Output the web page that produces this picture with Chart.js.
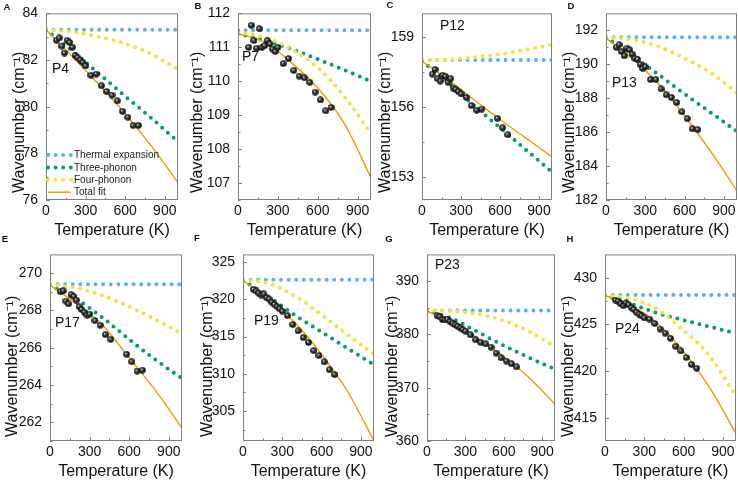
<!DOCTYPE html>
<html lang="en">
<head>
<meta charset="UTF-8">
<title>Phonon anharmonicity fits</title>
<script src="https://cdn.jsdelivr.net/npm/chart.js@4"></script>
<style>
  body { margin: 0; width: 738px; height: 482px; position: relative; overflow: hidden; background: #fff; font-family: "Liberation Sans", Arial, sans-serif; }
  canvas { position: absolute; }
  .tag { position: absolute; font-weight: bold; font-size: 9.5px; line-height: 10px; color: #111; transform: translate(-50%, -50%); }
  .peak { position: absolute; font-size: 14px; line-height: 16px; color: #111; }
</style>
</head>
<body>
<script>
// temperatures of the measured spectra and of the fit curve knots
const temps = [80, 100, 120, 140, 160, 180, 200, 220, 240, 260, 280, 300, 340, 380, 420, 460, 500, 540, 580, 620, 660, 700]
const fitT = [0, 200, 400, 600, 800, 1000]
const xTicks = [0, 300, 600, 900]
const xMinor = [150, 450, 750]

// A - P4
const p4Exp = [82.85, 82.95, 82.6, 82.3, 82.85, 82.75, 82.55, 82.2, 82.1, 82.0, 81.9, 81.75, 81.35, 81.4, 80.9, 80.65, 80.5, 80.25, 79.8, 79.55, 79.2, 79.2]
const p4Thermal = [83.3, 83.3, 83.3, 83.3, 83.3, 83.3]
const p4Three = [83.3, 82.38, 81.42, 80.45, 79.5, 78.5]
const p4Four = [83.3, 83.2, 83.0, 82.7, 82.25, 81.6]
const p4Total = [83.3, 82.15, 80.95, 79.7, 78.3, 76.75]
const p4Ticks = [76, 78, 80, 82, 84]
const p4Minor = [77, 79, 81, 83]

// B - P7
const p7Exp = [111.0, 111.65, 111.2, 110.97, 111.55, 111.0, 111.05, 111.2, 111.1, 110.95, 110.88, 111.0, 110.52, 110.67, 110.32, 110.15, 110.1, 109.97, 109.68, 109.45, 109.13, 109.23]
const p7Thermal = [111.5, 111.5, 111.5, 111.5, 111.5, 111.5]
const p7Three = [111.4, 111.2, 110.95, 110.65, 110.33, 110.0]
const p7Four = [111.45, 111.3, 110.95, 110.4, 109.55, 108.45]
const p7Total = [111.4, 111.15, 110.55, 109.8, 108.75, 107.15]
const p7Ticks = [107, 108, 109, 110, 111, 112]
const p7Minor = [106.5, 107.5, 108.5, 109.5, 110.5, 111.5]

// C - P12
const p12Exp = [157.4, 157.6, 157.2, 157.1, 157.35, 157.3, 157.05, 157.2, 156.8, 156.75, 156.65, 156.55, 156.4, 156.05, 155.85, 155.9, null, null, 155.5, 155.1, 154.8, null]
const p12Thermal = [158.0, 158.0, 158.0, 158.0, 158.0, 158.0]
const p12Three = [157.95, 157.05, 156.05, 155.1, 154.15, 153.2]
const p12Four = [158.0, 158.02, 158.12, 158.25, 158.45, 158.65]
const p12Total = [157.95, 157.15, 156.3, 155.45, 154.65, 153.85]
const p12Ticks = [153, 156, 159]
const p12Minor = [154.5, 157.5]

// D - P13
const p13Exp = [191.0, 191.15, 190.75, 190.5, 190.95, 190.85, 190.6, 190.35, 190.3, 190.0, 189.75, 189.85, 189.1, 189.1, 188.55, 188.2, 188.05, 187.75, 187.2, 186.8, 186.2, 186.15]
const p13Thermal = [191.6, 191.6, 191.6, 191.6, 191.6, 191.6]
const p13Three = [191.6, 190.5, 189.4, 188.25, 187.15, 186.05]
const p13Four = [191.6, 191.45, 191.05, 190.35, 189.5, 188.3]
const p13Total = [191.55, 190.35, 188.85, 186.95, 184.85, 182.55]
const p13Ticks = [182, 184, 186, 188, 190, 192]
const p13Minor = [183, 185, 187, 189, 191]

// E - P17
const p17Exp = [269.0, 269.05, 268.5, 268.35, 268.85, 268.75, 268.55, 268.2, 268.05, 267.9, 267.75, 267.8, 267.45, 267.2, 266.7, 266.45, null, null, 265.65, 265.25, 264.75, 264.8]
const p17Thermal = [269.4, 269.4, 269.4, 269.4, 269.4, 269.4]
const p17Three = [269.35, 268.6, 267.6, 266.45, 265.35, 264.35]
const p17Four = [269.4, 269.2, 268.8, 268.2, 267.5, 266.75]
const p17Total = [269.35, 268.35, 267.2, 265.45, 263.7, 261.7]
const p17Ticks = [262, 264, 266, 268, 270]
const p17Minor = [261, 263, 265, 267, 269]

// F - P19
const p19Exp = [321.3, 321.1, 320.8, 320.55, 320.7, 320.2, 320.0, 319.6, 319.3, 319.0, 318.7, 318.4, 317.8, 316.6, 315.75, 314.85, 314.2, 313.1, 312.45, 311.6, 310.55, 309.9]
const p19Thermal = [322.6, 322.6, 322.6, 322.6, 322.6, 322.6]
const p19Three = [322.5, 320.3, 317.8, 315.6, 313.4, 311.2]
const p19Four = [322.6, 322.1, 320.4, 317.9, 315.2, 312.6]
const p19Total = [322.5, 320.0, 316.8, 312.6, 307.6, 301.0]
const p19Ticks = [305, 310, 315, 320, 325]
const p19Minor = [302.5, 307.5, 312.5, 317.5, 322.5]

// G - P23
const p23Exp = [383.5, 383.3, 382.8, 382.7, 382.85, 382.4, 382.1, 381.8, 381.5, 381.2, 380.9, 380.6, 379.9, 379.0, 378.5, 378.2, 377.6, 376.5, 375.6, 375.0, 374.5, 373.9]
const p23Thermal = [384.5, 384.5, 384.5, 384.5, 384.5, 384.5]
const p23Three = [384.4, 382.9, 380.4, 377.9, 375.6, 373.5]
const p23Four = [384.5, 384.35, 383.8, 382.6, 380.5, 377.7]
const p23Total = [384.4, 382.0, 379.2, 375.8, 371.8, 366.9]
const p23Ticks = [360, 370, 380, 390]
const p23Minor = [365, 375, 385]

// H - P24
const p24Exp = [427.6, 427.5, 427.2, 427.0, 427.3, 427.1, 426.8, 426.6, 426.3, 426.1, 425.9, 425.7, 425.55, 425.1, 424.5, 424.05, 423.5, 422.65, 422.15, 421.45, 420.7, 420.3]
const p24Thermal = [428.15, 428.15, 428.15, 428.15, 428.15, 428.15]
const p24Three = [428.1, 427.2, 426.2, 425.45, 424.75, 424.05]
const p24Four = [428.1, 427.75, 426.6, 424.35, 421.6, 417.3]
const p24Total = [428.1, 427.0, 425.1, 422.1, 418.2, 413.3]
const p24Ticks = [415, 420, 425, 430]
const p24Minor = [417.5, 422.5, 427.5]

const BLUE = '#56B4E9'
const GREEN = '#009E73'
const YELLOW = '#F0E442'
const ORANGE = '#E69F00'

const panels = [
  { tag: 'A', peak: 'P4', exp: p4Exp, thermal: p4Thermal, three: p4Three, four: p4Four, total: p4Total, yMin: 76, yMax: 84, yTicks: p4Ticks, yMinor: p4Minor, box: [46, 7, 178, 200], titleX: 20, peakAt: [52, 68], tagAt: [7, 7], legend: true },
  { tag: 'B', peak: 'P7', exp: p7Exp, thermal: p7Thermal, three: p7Three, four: p7Four, total: p7Total, yMin: 106.5, yMax: 112, yTicks: p7Ticks, yMinor: p7Minor, box: [238, 7, 371, 200], titleX: 198, peakAt: [242, 56], tagAt: [198, 6] },
  { tag: 'C', peak: 'P12', exp: p12Exp, thermal: p12Thermal, three: p12Three, four: p12Four, total: p12Total, yMin: 152, yMax: 160, yTicks: p12Ticks, yMinor: p12Minor, box: [422, 7, 552, 200], titleX: 386, peakAt: [440, 25], tagAt: [390, 5] },
  { tag: 'D', peak: 'P13', exp: p13Exp, thermal: p13Thermal, three: p13Three, four: p13Four, total: p13Total, yMin: 182, yMax: 193, yTicks: p13Ticks, yMinor: p13Minor, box: [606, 7, 737, 200], titleX: 570, peakAt: [612, 82], tagAt: [571, 6] },
  { tag: 'E', peak: 'P17', exp: p17Exp, thermal: p17Thermal, three: p17Three, four: p17Four, total: p17Total, yMin: 261, yMax: 271, yTicks: p17Ticks, yMinor: p17Minor, box: [50, 248, 182, 441], titleX: 13, peakAt: [55, 322], tagAt: [5, 239] },
  { tag: 'F', peak: 'P19', exp: p19Exp, thermal: p19Thermal, three: p19Three, four: p19Four, total: p19Total, yMin: 301, yMax: 326, yTicks: p19Ticks, yMinor: p19Minor, box: [243, 248, 374, 441], titleX: 208, peakAt: [254, 320], tagAt: [197, 238] },
  { tag: 'G', peak: 'P23', exp: p23Exp, thermal: p23Thermal, three: p23Three, four: p23Four, total: p23Total, yMin: 360, yMax: 395, yTicks: p23Ticks, yMinor: p23Minor, box: [427, 248, 555, 441], titleX: 393, peakAt: [435, 264], tagAt: [389, 239] },
  { tag: 'H', peak: 'P24', exp: p24Exp, thermal: p24Thermal, three: p24Three, four: p24Four, total: p24Total, yMin: 412.5, yMax: 432.5, yTicks: p24Ticks, yMinor: p24Minor, box: [605, 248, 736, 441], titleX: 569, peakAt: [615, 328], tagAt: [570, 239] }
]

Chart.defaults.font.family = '"Liberation Sans", Arial, sans-serif'
Chart.defaults.color = '#111'

// small shaded black sphere used for the measured points
function makeBall() {
  const c = document.createElement('canvas')
  c.width = c.height = 7
  const g = c.getContext('2d')
  const grd = g.createRadialGradient(2.6, 2.5, 0.2, 3.5, 3.5, 3.4)
  grd.addColorStop(0, '#cfcfcf')
  grd.addColorStop(0.4, '#3a3a3a')
  grd.addColorStop(1, '#050505')
  g.fillStyle = grd
  g.beginPath()
  g.arc(3.5, 3.5, 3.3, 0, Math.PI * 2)
  g.fill()
  return c
}
const ball = makeBall()

const legendItems = [
  ['Thermal expansion', BLUE, true],
  ['Three-phonon', GREEN, true],
  ['Four-phonon', YELLOW, true],
  ['Total fit', ORANGE, false]
]

function framePlugin(p, titleOffset) {
  return {
    id: 'frame' + p.tag,
    afterDatasetsDraw(chart) {
      const { ctx, chartArea: a, scales: { x, y } } = chart
      ctx.save()
      ctx.strokeStyle = '#808080'
      ctx.lineWidth = 1
      ctx.strokeRect(a.left + 0.5, a.top + 0.5, a.width - 1, a.height - 1)
      ctx.beginPath()
      xTicks.forEach(v => { const px = Math.round(x.getPixelForValue(v)) + 0.5; ctx.moveTo(px, a.bottom); ctx.lineTo(px, a.bottom - 4) })
      xMinor.forEach(v => { const px = Math.round(x.getPixelForValue(v)) + 0.5; ctx.moveTo(px, a.bottom); ctx.lineTo(px, a.bottom - 2.5) })
      p.yTicks.forEach(v => { const py = Math.round(y.getPixelForValue(v)) + 0.5; ctx.moveTo(a.left, py); ctx.lineTo(a.left + 4, py) })
      p.yMinor.forEach(v => { const py = Math.round(y.getPixelForValue(v)) + 0.5; ctx.moveTo(a.left, py); ctx.lineTo(a.left + 2.5, py) })
      ctx.stroke()

      if (p.legend) {
        ctx.font = '10px "Liberation Sans", Arial, sans-serif'
        ctx.textBaseline = 'middle'
        legendItems.forEach(([label, color, dotted], i) => {
          const ly = a.bottom - 45 + i * 12.4
          ctx.beginPath()
          ctx.strokeStyle = color
          if (dotted) {
            ctx.lineWidth = 4
            ctx.lineCap = 'round'
            ctx.setLineDash([0, 7.6])
          } else {
            ctx.lineWidth = 1.5
            ctx.lineCap = 'butt'
            ctx.setLineDash([])
          }
          ctx.moveTo(a.left + 2, ly)
          ctx.lineTo(a.left + 25, ly)
          ctx.stroke()
          ctx.fillStyle = '#222'
          ctx.fillText(label, a.left + 28, ly + 0.5)
        })
      }
      ctx.restore()
    },
    afterDraw(chart) {
      // y title sits low on the axis, as in the source figure
      const { ctx, chartArea: a } = chart
      ctx.save()
      ctx.font = '16px "Liberation Sans", Arial, sans-serif'
      ctx.fillStyle = '#111'
      ctx.textAlign = 'left'
      ctx.textBaseline = 'middle'
      ctx.translate(10, a.bottom - titleOffset)
      ctx.rotate(-Math.PI / 2)
      ctx.fillText('Wavenumber (cm⁻¹)', 0, 0)
      ctx.restore()
    }
  }
}

function dotted(vals, color, order) {
  return {
    data: fitT.map((t, i) => ({ x: t, y: vals[i] })),
    showLine: true,
    borderColor: color,
    borderWidth: 4,
    borderDash: [0, 7.6],
    borderCapStyle: 'round',
    cubicInterpolationMode: 'monotone',
    pointRadius: 0,
    order
  }
}

panels.forEach((p, idx) => {
  const [L, T, R, B] = p.box
  const left = p.titleX - 10
  const top = T - 10
  const yw = L - left
  const cv = document.createElement('canvas')
  cv.width = yw + (R - L) + 6
  cv.height = 10 + (B - T) + 40
  cv.style.left = left + 'px'
  cv.style.top = top + 'px'
  document.body.appendChild(cv)

  const tag = document.createElement('div')
  tag.className = 'tag'
  tag.textContent = p.tag
  tag.style.left = p.tagAt[0] + 'px'
  tag.style.top = p.tagAt[1] + 'px'
  document.body.appendChild(tag)

  const peak = document.createElement('div')
  peak.className = 'peak'
  peak.textContent = p.peak
  peak.style.left = p.peakAt[0] + 'px'
  peak.style.top = (p.peakAt[1] - 8) + 'px'
  document.body.appendChild(peak)

  const expData = temps.map((t, i) => ({ x: t, y: p.exp[i] })).filter(d => d.y !== null)

  new Chart(cv, {
    type: 'scatter',
    data: {
      datasets: [
        { label: 'Data', data: expData, pointStyle: ball, pointRadius: 3.5, showLine: false, order: 0 },
        { label: 'Total fit', data: fitT.map((t, i) => ({ x: t, y: p.total[i] })), showLine: true, borderColor: ORANGE, borderWidth: 1.4, cubicInterpolationMode: 'monotone', pointRadius: 0, order: 1 },
        Object.assign({ label: 'Four-phonon' }, dotted(p.four, YELLOW, 2)),
        Object.assign({ label: 'Three-phonon' }, dotted(p.three, GREEN, 3)),
        Object.assign({ label: 'Thermal expansion' }, dotted(p.thermal, BLUE, 4))
      ]
    },
    options: {
      responsive: false,
      animation: false,
      devicePixelRatio: 1,
      layout: { padding: { left: 0, top: 10, right: 6, bottom: 0 } },
      plugins: { legend: { display: false }, tooltip: { enabled: false } },
      scales: {
        x: {
          type: 'linear', min: 0, max: 1000,
          grid: { display: false, drawTicks: false },
          border: { display: false },
          ticks: { font: { size: 14 }, color: '#111', padding: 3, maxRotation: 0, autoSkip: false },
          afterBuildTicks: s => { s.ticks = xTicks.map(v => ({ value: v })) },
          afterFit: s => { s.height = 40 },
          title: { display: true, text: 'Temperature (K)', font: { size: 16 }, color: '#111', padding: 0 }
        },
        y: {
          type: 'linear', min: p.yMin, max: p.yMax,
          grid: { display: false, drawTicks: false },
          border: { display: false },
          ticks: { font: { size: 14 }, color: '#111', padding: 8, autoSkip: false },
          afterBuildTicks: s => { s.ticks = p.yTicks.map(v => ({ value: v })) },
          afterFit: s => { s.width = yw }
        }
      }
    },
    plugins: [framePlugin(p, idx < 4 ? 7 : 4)]
  })
})
</script>
</body>
</html>
